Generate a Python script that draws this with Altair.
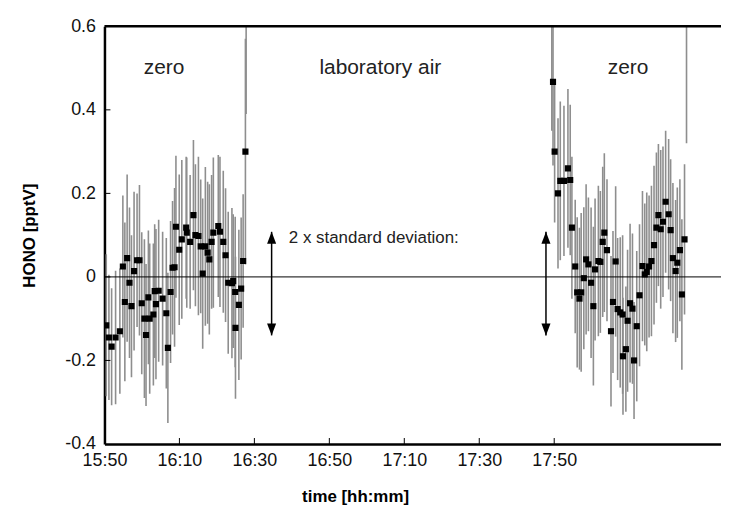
import altair as alt
import pandas as pd

# time in minutes after midnight (15:50 = 950), HONO in pptV, error half-width
t_zero1 = [950.48, 951.19, 951.91, 952.97, 954.11, 954.91, 955.44, 956.05, 956.68, 957.21,
           957.90, 958.70, 959.34, 959.95, 960.66, 961.09, 961.72, 962.07, 963.05, 963.40,
           963.74, 964.46, 965.52, 966.50, 966.92, 967.64, 968.17, 968.70, 969.07, 969.95,
           970.64, 971.80, 971.96, 972.86, 973.74, 974.27, 975.07, 975.68, 976.21, 976.92,
           977.53, 977.98, 978.59, 979.05, 980.37, 980.82, 981.70, 982.31, 983.02, 984.01,
           984.35, 984.88, 984.96, 985.86, 986.47, 987.00, 987.61, 987.80]
v_zero1 = [-0.116, -0.145, -0.167, -0.145, -0.130, 0.025, -0.060, 0.045, -0.014, -0.070,
           0.014, 0.040, 0.040, -0.063, -0.100, -0.139, -0.049, -0.100, -0.090, -0.034,
           -0.065, -0.033, -0.052, -0.087, -0.170, -0.036, 0.022, 0.023, 0.120, 0.065,
           0.090, 0.118, 0.106, 0.084, 0.148, 0.100, 0.098, 0.073, 0.008, 0.073,
           0.058, 0.042, 0.084, 0.106, 0.122, 0.108, 0.084, 0.052, -0.014, -0.015,
           -0.010, -0.036, -0.122, -0.067, -0.028, 0.038, 0.300, 0.950]
e_zero1 = [0.17, 0.15, 0.14, 0.16, 0.15, 0.17, 0.19, 0.20, 0.18, 0.17,
           0.19, 0.16, 0.18, 0.17, 0.19, 0.17, 0.16, 0.18, 0.17, 0.16,
           0.18, 0.17, 0.16, 0.18, 0.18, 0.17, 0.16, 0.19, 0.17, 0.18,
           0.19, 0.17, 0.18, 0.16, 0.18, 0.17, 0.19, 0.16, 0.18, 0.19,
           0.17, 0.18, 0.16, 0.18, 0.17, 0.18, 0.17, 0.16, 0.17, 0.18,
           0.16, 0.18, 0.17, 0.18, 0.17, 0.16, 0.27, 0.56]

t_zero2 = [1069.36, 1069.68, 1070.11, 1071.01, 1071.62, 1072.60, 1073.66, 1074.27, 1074.72, 1075.60,
           1076.13, 1076.74, 1077.19, 1077.90, 1078.51, 1079.12, 1079.84, 1080.45, 1080.90, 1081.78,
           1082.31, 1082.94, 1083.37, 1084.08, 1085.15, 1085.68, 1086.39, 1086.92, 1087.61, 1088.25,
           1088.35, 1089.12, 1089.57, 1090.24, 1090.88, 1091.30, 1092.02, 1092.76, 1093.55, 1094.16,
           1094.69, 1095.31, 1095.94, 1096.63, 1097.27, 1097.80, 1098.41, 1099.02, 1099.73, 1100.53,
           1101.06, 1101.67, 1102.39, 1102.84, 1103.53, 1104.06, 1104.77, 1105.30]
v_zero2 = [0.900, 0.467, 0.300, 0.200, 0.230, 0.230, 0.260, 0.232, 0.118, 0.025,
           -0.037, -0.052, -0.037, -0.003, 0.042, 0.030, -0.014, -0.070, 0.018, 0.038,
           0.036, 0.084, 0.106, 0.064, -0.130, -0.060, 0.037, -0.077, -0.085, -0.090,
           -0.190, -0.173, -0.105, -0.063, -0.076, -0.200, -0.118, -0.044, 0.026, 0.006,
           0.012, 0.025, 0.038, 0.076, 0.118, 0.148, 0.114, 0.132, 0.180, 0.150,
           0.112, 0.045, 0.014, 0.034, 0.064, -0.042, 0.090, 0.850]
e_zero2 = [0.55, 0.20, 0.17, 0.18, 0.19, 0.18, 0.19, 0.18, 0.17, 0.16,
           0.18, 0.17, 0.19, 0.17, 0.18, 0.16, 0.18, 0.19, 0.17, 0.18,
           0.17, 0.18, 0.19, 0.17, 0.18, 0.17, 0.18, 0.17, 0.18, 0.19,
           0.14, 0.15, 0.17, 0.19, 0.18, 0.14, 0.18, 0.17, 0.18, 0.17,
           0.19, 0.17, 0.18, 0.19, 0.18, 0.17, 0.19, 0.18, 0.17, 0.18,
           0.17, 0.18, 0.17, 0.18, 0.17, 0.18, 0.18, 0.53]

x_ticks = [950, 970, 990, 1010, 1030, 1050, 1070]
y_ticks = [-0.4, -0.2, 0, 0.2, 0.4, 0.6]

label_text = ["zero", "laboratory air", "zero"]
label_t = [965.9, 1023.6, 1089.7]
label_v = [0.50, 0.50, 0.50]

sd_text = ["2 x standard deviation:"]
sd_t = [999.2]
sd_v = [0.093]

arrow_t = [994.6, 1067.8]
arrow_lo = [-0.14, -0.14]
arrow_hi = [0.108, 0.108]

X_DOMAIN = [950, 1114.5]
Y_DOMAIN = [-0.4, 0.6]
FONT = "Liberation Sans"

df = pd.DataFrame({
    "t": t_zero1 + t_zero2,
    "v": v_zero1 + v_zero2,
    "e": e_zero1 + e_zero2,
})
df["lo"] = df["v"] - df["e"]
df["hi"] = df["v"] + df["e"]

x_axis = alt.Axis(
    values=x_ticks, ticks=False, grid=False, domainColor="black", domainWidth=2.5,
    labelExpr="floor(datum.value / 60) + ':' + (datum.value % 60 < 10 ? '0' : '') + (datum.value % 60)",
    labelFont=FONT, labelFontSize=18, labelColor="#111", labelPadding=8,
    title="time [hh:mm]", titleFont=FONT, titleFontSize=17, titleFontWeight="bold",
    titleColor="#000", titleX=252, titleY=45, titleAnchor="start", titleAlign="center",
    titleBaseline="top", labelFlush=False,
)
y_axis = alt.Axis(
    values=y_ticks, ticks=False, grid=False, domainColor="black", domainWidth=2.5,
    labelExpr="datum.value == 0 ? '0' : (datum.value < 0 ? '-' + format(-datum.value, '.1f') : format(datum.value, '.1f'))",
    labelFont=FONT, labelFontSize=18, labelColor="#111", labelPadding=9,
    title="HONO [pptV]", titleFont=FONT, titleFontSize=17, titleFontWeight="bold",
    titleColor="#000", titleX=-75, titleY=210, titleAngle=-90, titleAlign="center",
    titleBaseline="middle", labelFlush=False,
)


def X(field="t"):
    return alt.X(f"{field}:Q", scale=alt.Scale(domain=X_DOMAIN, nice=False, zero=False), axis=x_axis)


def Y(field):
    return alt.Y(f"{field}:Q", scale=alt.Scale(domain=Y_DOMAIN, nice=False, zero=False), axis=y_axis)


base = alt.Chart(df)

bars = base.mark_rule(color="#8e8e8e", strokeWidth=1.6, clip=True).encode(
    x=X(), y=Y("lo"), y2="hi"
)
zero_line = alt.Chart(pd.DataFrame({"v": [0.0]})).mark_rule(color="black", strokeWidth=1).encode(
    y=Y("v")
)
points = base.mark_square(size=38, color="black", opacity=1, clip=True).encode(
    x=X(), y=Y("v")
)
top_line = alt.Chart(pd.DataFrame({"v": [0.6]})).mark_rule(color="black", strokeWidth=2.5).encode(
    y=Y("v")
)

xt = alt.Chart(pd.DataFrame({"t": x_ticks[1:]})).mark_rule(color="black", strokeWidth=1).encode(
    x=X(), y=alt.value(420), y2=alt.value(414)
)
yt = alt.Chart(pd.DataFrame({"v": y_ticks[1:-1]})).mark_rule(color="black", strokeWidth=1).encode(
    y=Y("v"), x=alt.value(0), x2=alt.value(6)
)

labels = alt.Chart(pd.DataFrame({"t": label_t, "v": label_v, "txt": label_text})).mark_text(
    font=FONT, fontSize=21, color="#222", align="center", baseline="middle"
).encode(x=X(), y=Y("v"), text="txt:N")

sd = alt.Chart(pd.DataFrame({"t": sd_t, "v": sd_v, "txt": sd_text})).mark_text(
    font=FONT, fontSize=17, color="#222", align="left", baseline="middle"
).encode(x=X(), y=Y("v"), text="txt:N")

adf = pd.DataFrame({"t": arrow_t, "lo": arrow_lo, "hi": arrow_hi})
arrow_line = alt.Chart(adf).mark_rule(color="black", strokeWidth=1.5).encode(
    x=X(), y=Y("lo"), y2="hi"
)
arrow_up = alt.Chart(adf).mark_point(
    shape="M0,0 L-0.38,1 L0.38,1 Z", size=576, filled=True, color="black", opacity=1
).encode(x=X(), y=Y("hi"))
arrow_down = alt.Chart(adf).mark_point(
    shape="M0,0 L-0.38,-1 L0.38,-1 Z", size=576, filled=True, color="black", opacity=1
).encode(x=X(), y=Y("lo"))

chart = alt.layer(
    bars, zero_line, points, top_line, xt, yt, labels, sd, arrow_line, arrow_up, arrow_down
).properties(
    width=620, height=420,
    autosize=alt.AutoSizeParams(type="none"),
    padding={"left": 97, "top": 17, "right": 0, "bottom": 70},
    background="white",
).configure_view(stroke=None)

chart.save("out.html", embed_options={"renderer": "svg", "actions": False})
